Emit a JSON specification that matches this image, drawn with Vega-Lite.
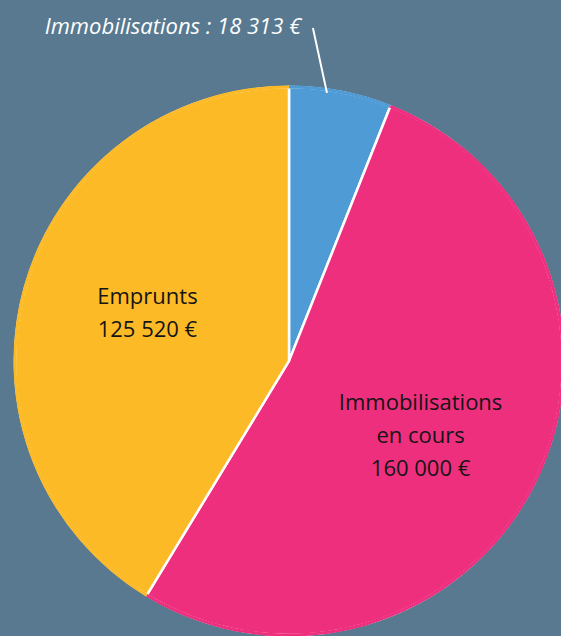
{
  "$schema": "https://vega.github.io/schema/vega-lite/v6.json",
  "width": 578,
  "height": 722,
  "padding": 0,
  "autosize": "none",
  "background": "#587990",
  "view": {"stroke": null},
  "datasets": {
    "slices": [
      {"poste": "Immobilisations", "montant": 18313, "ordre": 1, "etiquette": ""},
      {"poste": "Immobilisations en cours", "montant": 160000, "ordre": 2, "etiquette": "Immobilisations\nen cours\n160 000 €"},
      {"poste": "Emprunts", "montant": 125520, "ordre": 3, "etiquette": "Emprunts\n125 520 €"}
    ],
    "callout": [
      {"texte": "Immobilisations : 18 313 €", "x": -0.422, "y": 1.215, "x1": 0.087, "y1": 1.211, "x2": 0.138, "y2": 0.975}
    ]
  },
  "layer": [
    {
      "data": {"name": "slices"},
      "mark": {"type": "arc", "outerRadius": 274, "stroke": "white", "strokeWidth": 2.5},
      "encoding": {
        "theta": {"field": "montant", "type": "quantitative", "stack": true},
        "order": {"field": "ordre", "type": "quantitative"},
        "color": {
          "field": "poste",
          "type": "nominal",
          "scale": {"domain": ["Immobilisations", "Immobilisations en cours", "Emprunts"], "range": ["#4E9BD6", "#EE2F7E", "#FDBA27"]},
          "legend": null
        }
      }
    },
    {
      "data": {"name": "slices"},
      "mark": {"type": "arc", "innerRadius": 272.5, "outerRadius": 275.5},
      "encoding": {
        "theta": {"field": "montant", "type": "quantitative", "stack": true},
        "order": {"field": "ordre", "type": "quantitative"},
        "color": {"field": "poste", "type": "nominal", "legend": null}
      }
    },
    {
      "data": {"name": "slices"},
      "mark": {"type": "text", "radius": 147, "dy": -24, "font": "Open Sans", "fontSize": 22, "color": "#151515", "lineBreak": "\n", "lineHeight": 33, "align": "center", "baseline": "middle"},
      "encoding": {
        "theta": {"field": "montant", "type": "quantitative", "stack": true},
        "order": {"field": "ordre", "type": "quantitative"},
        "text": {"field": "etiquette"}
      }
    },
    {
      "data": {"name": "callout"},
      "layer": [
        {
          "mark": {"type": "rule", "color": "white", "strokeWidth": 2},
          "encoding": {
            "x": {"field": "x1", "type": "quantitative", "scale": {"domain": [-1.0509, 1.0509], "nice": false, "zero": false}, "axis": null},
            "y": {"field": "y1", "type": "quantitative", "scale": {"domain": [-1.3127, 1.3127], "nice": false, "zero": false}, "axis": null},
            "x2": {"field": "x2"},
            "y2": {"field": "y2"}
          }
        },
        {
          "mark": {"type": "text", "font": "Open Sans", "fontStyle": "italic", "fontSize": 22, "color": "white", "align": "center", "baseline": "middle"},
          "encoding": {
            "x": {"field": "x", "type": "quantitative"},
            "y": {"field": "y", "type": "quantitative"},
            "text": {"field": "texte"}
          }
        }
      ]
    }
  ]
}
